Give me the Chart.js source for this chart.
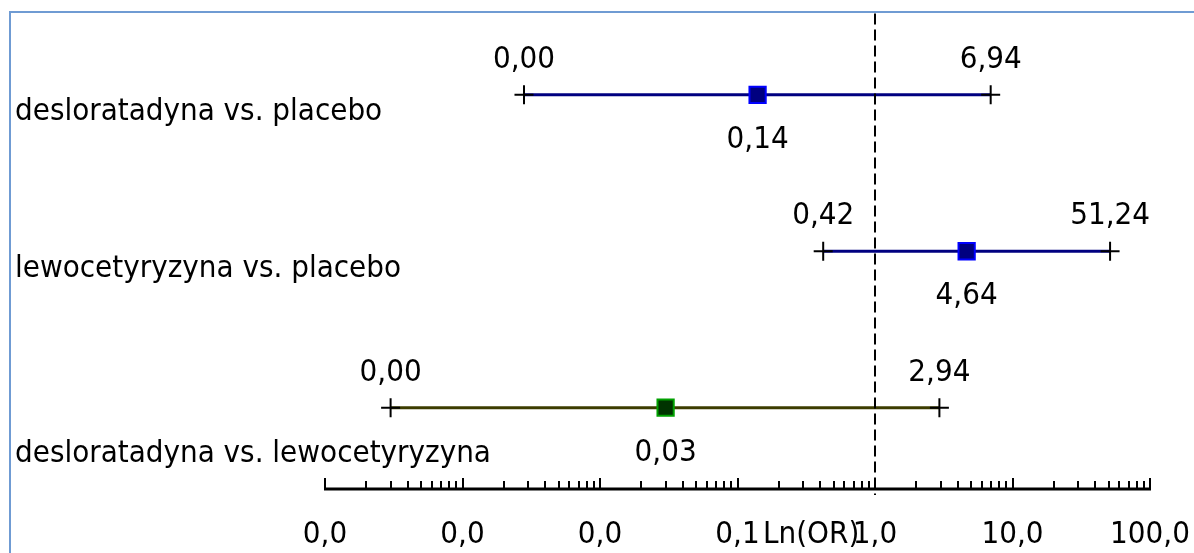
<!DOCTYPE html>
<html>
<head>
<meta charset="utf-8">
<script src="https://cdn.jsdelivr.net/npm/chart.js@4"></script>
<style>
  html, body { margin: 0; padding: 0; background: #ffffff; }
  #wrap { position: relative; width: 1194px; height: 553px; overflow: hidden; }
  #frame { position: absolute; left: 9px; top: 11px; width: 1300px; height: 700px;
           border-left: 2px solid #6f9bd3; border-top: 2px solid #6f9bd3; box-sizing: border-box; }
  canvas { position: absolute; left: 0; top: 0; }
</style>
</head>
<body>
<div id="wrap">
  <div id="frame"></div>
  <canvas id="c" width="1194" height="553"></canvas>
</div>
<script>
// ---- data ----
const categories = ['desloratadyna vs. placebo', 'lewocetyryzyna vs. placebo', 'desloratadyna vs. lewocetyryzyna'];
const estimates = [0.14, 4.64, 0.03];
const lowerCI = [0.0028, 0.42, 0.0003];
const upperCI = [6.94, 51.24, 2.94];
const axisTicks = [0.0001, 0.001, 0.01, 0.1, 1, 10, 100];
const axisTickLabels = ['0,0', '0,0', '0,0', '0,1', '1,0', '10,0', '100,0'];
const axisTitle = 'Ln(OR)';
const referenceValue = 1;

// ---- styles ----
const lineColors = ['#000080', '#000080', '#3c3c00'];
const markerFill = ['#000080', '#000080', '#003300'];
const markerBorder = ['#0000ff', '#0000ff', '#00a000'];
const FONT = '31px "DejaVu Sans Condensed", "DejaVu Sans", sans-serif';
const rowLabelOffsets = [25, 26, 54];

const fmt = v => v.toFixed(2).replace('.', ',');

const datasets = [];
categories.forEach((c, i) => {
  datasets.push({
    label: c + ' est',
    data: [{ x: estimates[i], y: i + 1 }],
    showLine: false,
    pointStyle: 'rect',
    pointRadius: 11.5,
    pointBackgroundColor: markerFill[i],
    pointBorderColor: markerBorder[i],
    pointBorderWidth: 2,
    order: 0
  });
});
categories.forEach((c, i) => {
  datasets.push({
    label: c + ' ci',
    data: [{ x: lowerCI[i], y: i + 1 }, { x: upperCI[i], y: i + 1 }],
    showLine: true,
    borderColor: lineColors[i],
    borderWidth: 3,
    pointStyle: 'cross',
    pointRadius: 9.5,
    pointBorderColor: '#000000',
    pointBorderWidth: 2,
    order: 1
  });
});

const overlay = {
  id: 'overlay',
  afterDatasetsDraw(chart) {
    const ctx = chart.ctx;
    const xs = chart.scales.x, ys = chart.scales.y;
    const area = chart.chartArea;
    ctx.save();
    // reference dashed line
    const rx = Math.round(xs.getPixelForValue(referenceValue));
    ctx.strokeStyle = '#000';
    ctx.lineWidth = 2;
    ctx.setLineDash([11, 5]);
    ctx.beginPath();
    ctx.moveTo(rx, area.top);
    ctx.lineTo(rx, area.bottom + 6);
    ctx.stroke();
    ctx.setLineDash([]);

    // axis line
    const ay = area.bottom;
    ctx.lineWidth = 3;
    ctx.beginPath();
    ctx.moveTo(xs.getPixelForValue(axisTicks[0]) - 1, ay);
    ctx.lineTo(xs.getPixelForValue(axisTicks[axisTicks.length - 1]) + 1, ay);
    ctx.stroke();
    // major + minor ticks
    ctx.lineWidth = 2;
    axisTicks.forEach((t, k) => {
      const px = Math.round(xs.getPixelForValue(t));
      ctx.beginPath();
      ctx.moveTo(px, ay);
      ctx.lineTo(px, ay - 11);
      ctx.stroke();
      if (k < axisTicks.length - 1) {
        for (let m = 2; m <= 9; m++) {
          const mx = Math.round(xs.getPixelForValue(t * m));
          ctx.beginPath();
          ctx.moveTo(mx, ay);
          ctx.lineTo(mx, ay - 8);
          ctx.stroke();
        }
      }
    });
    // tick labels
    ctx.fillStyle = '#000';
    ctx.font = FONT;
    ctx.textAlign = 'center';
    ctx.textBaseline = 'alphabetic';
    axisTicks.forEach((t, k) => {
      ctx.fillText(axisTickLabels[k], xs.getPixelForValue(t), ay + 54);
    });
    // axis title
    ctx.textAlign = 'left';
    ctx.fillText(axisTitle, 763, ay + 54);

    // value labels & row labels
    categories.forEach((c, i) => {
      const py = ys.getPixelForValue(i + 1);
      ctx.textAlign = 'center';
      ctx.fillText(fmt(lowerCI[i]), xs.getPixelForValue(lowerCI[i]), py - 27);
      ctx.fillText(fmt(upperCI[i]), xs.getPixelForValue(upperCI[i]), py - 27);
      ctx.fillText(fmt(estimates[i]), xs.getPixelForValue(estimates[i]), py + 53);
      ctx.textAlign = 'left';
      ctx.fillText(c, 15, py + rowLabelOffsets[i]);
    });
    ctx.restore();
  }
};

new Chart(document.getElementById('c'), {
  type: 'scatter',
  data: { datasets },
  options: {
    responsive: false,
    animation: false,
    devicePixelRatio: 1,
    layout: { padding: { left: 325, right: 44, top: 12, bottom: 64 } },
    plugins: { legend: { display: false }, tooltip: { enabled: false } },
    scales: {
      x: { type: 'logarithmic', min: 0.0001, max: 100, display: false },
      y: { type: 'linear', min: 0.48, max: 3.52, reverse: true, display: false }
    }
  },
  plugins: [overlay]
});
</script>
</body>
</html>
